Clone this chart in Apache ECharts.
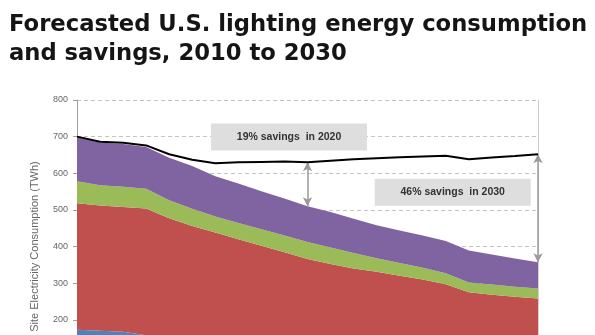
<!DOCTYPE html>
<html>
<head>
<meta charset="utf-8">
<script src="https://cdn.jsdelivr.net/npm/echarts@6/dist/echarts.min.js"></script>
<style>
html,body{margin:0;padding:0;background:#fff;overflow:hidden;width:595px;height:335px;}
#chart{width:595px;height:420px;}
</style>
</head>
<body>
<div id="chart"></div>
<script>
// Years (x values)
var years = [2010,2011,2012,2013,2014,2015,2016,2017,2018,2019,2020,2021,2022,2023,2024,2025,2026,2027,2028,2029,2030];
// Sector consumption with SSL (TWh), stacked bottom to top
var residential = [173,170,167,158,150,143,137,131,126,121,116,112,108,104,100,97,93,88,86,84,82];
var commercial  = [345,342,341,346,327,313,301,289,276,263,250,240,232,227,220,213,204,187,182,179,176];
var industrial  = [60,55,55,54,49,47,44,44,45,46,46,45,42,37,35,32,30,27,28,27,27];
var outdoor     = [120,117,117,114,116,117,110,108,104,101,98,97,94,90,89,88,88,87,82,77,72];
// Baseline (no SSL) consumption (TWh)
var baseline    = [700,686,683,676,652,637,627,630,631,632,630,634,638,641,644,646,648,638,643,647,652];
// Y-axis ticks
var yTicks = [0,100,200,300,400,500,600,700,800];
// Savings annotations
var savingsYears = [2020, 2030];
var savingsLabels = ['19% savings  in 2020', '46% savings  in 2030'];

function pairs(arr){ return years.map(function(y,i){ return [y, arr[i]]; }); }
function totalAt(year){
  var i = years.indexOf(year);
  return residential[i]+commercial[i]+industrial[i]+outdoor[i];
}
function baseAt(year){ return baseline[years.indexOf(year)]; }

var chart = echarts.init(document.getElementById('chart'), null, {renderer:'canvas'});

function area(name, data, color){
  return {
    name: name, type: 'line', stack: 'ssl', data: data,
    xAxisIndex: 0, yAxisIndex: 0,
    showSymbol: false, symbol: 'none', smooth: false,
    lineStyle: {width: 0, color: color, opacity: 0},
    itemStyle: {color: color},
    areaStyle: {color: color, opacity: 1},
    z: 2, silent: true
  };
}

var option = {
  animation: false,
  backgroundColor: '#ffffff',
  title: {
    text: 'Forecasted U.S. lighting energy consumption\nand savings, 2010 to 2030',
    left: 4, top: 6,
    textStyle: {
      fontFamily: 'DejaVu Sans', fontWeight: 'bold', fontSize: 22.7,
      lineHeight: 28.5, color: '#151515'
    }
  },
  grid: {left: 77, top: 100, height: 293, width: 461, containLabel: false},
  xAxis: [{
    type: 'category', data: years.map(String), boundaryGap: false,
    show: false
  },{
    type: 'value', min: years[0], max: years[years.length-1],
    show: false
  }],
  yAxis: [{
    type: 'value', min: yTicks[0], max: yTicks[yTicks.length-1], interval: 100,
    name: 'Site Electricity Consumption (TWh)',
    nameLocation: 'middle', nameGap: 37, nameRotate: 90,
    nameTextStyle: {fontFamily: 'Liberation Sans', fontSize: 11, color: '#666'},
    axisLine: {show: true, lineStyle: {color: '#a0a0a0', width: 1}},
    axisTick: {show: true, length: 4, lineStyle: {color: '#a0a0a0'}},
    axisLabel: {fontFamily: 'Liberation Sans', fontSize: 9, color: '#666', margin: 9},
    splitLine: {show: true, lineStyle: {color: '#c4c4c4', type: [4,3], width: 1}}
  },{
    type: 'value', min: 0, max: 800, position: 'right',
    axisLine: {show: true, lineStyle: {color: '#cfcfcf', width: 1}},
    axisTick: {show: false}, axisLabel: {show: false}, splitLine: {show: false}
  }],
  series: [
    area('Residential', residential, '#4f81bd'),
    area('Commercial', commercial, '#c0504d'),
    area('Industrial', industrial, '#9bbb59'),
    area('Outdoor', outdoor, '#8064a2'),
    {
      name: 'Baseline', type: 'line', data: pairs(baseline),
      xAxisIndex: 1, yAxisIndex: 0,
      showSymbol: false, symbol: 'none',
      lineStyle: {color: '#000', width: 2},
      z: 5, silent: true,
      markLine: {
        silent: true, symbol: ['arrow','arrow'], symbolSize: [7, 9],
        lineStyle: {color: '#9a9a9a', width: 1.5, type: 'solid'},
        label: {show: false},
        data: savingsYears.map(function(y){
          return [{coord: [y, baseAt(y)]}, {coord: [y, totalAt(y)]}];
        })
      },
      markPoint: {
        silent: true, symbol: 'rect', symbolSize: [156, 27],
        itemStyle: {color: '#dedede'},
        label: {show: true, position: 'inside', color: '#333',
          fontFamily: 'Liberation Sans', fontWeight: 'bold', fontSize: 10.5},
        data: [
          {coord: [2019.2, 699], value: savingsLabels[0], label: {formatter: savingsLabels[0]}},
          {coord: [2026.3, 548], value: savingsLabels[1], label: {formatter: savingsLabels[1]}}
        ]
      }
    }
  ]
};
chart.setOption(option);
</script>
</body>
</html>
